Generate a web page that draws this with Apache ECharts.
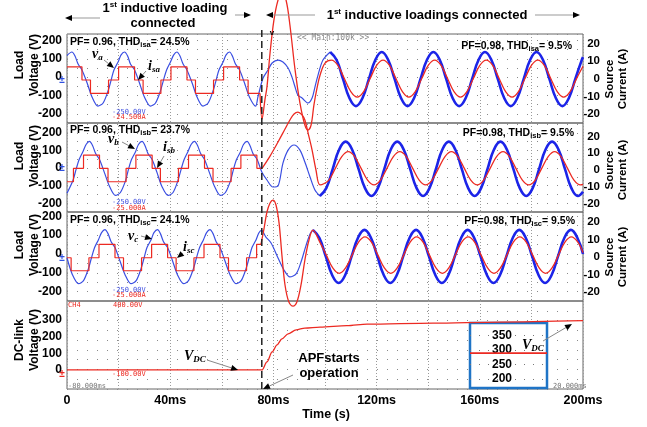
<!DOCTYPE html>
<html>
<head>
<meta charset="utf-8">
<script src="https://cdn.jsdelivr.net/npm/echarts@6/dist/echarts.min.js"></script>
<style>
html, body { margin: 0; padding: 0; background: #fff; }
#chart { width: 647px; height: 427px; }
</style>
</head>
<body>
<div id="chart"></div>
<script>
// tick labels
const timeTicks = [0, 40, 80, 120, 160, 200]
const voltTicks = [-200, -100, 0, 100, 200]
const currTicks = [-20, -10, 0, 10, 20]
const dcTicks = [0, 100, 200, 300]
const insetTicks = [200, 250, 300, 350]
const apfStart = 75.5 // ms, APF switched on

// phase a: load voltage (V) and source current (A), [time ms, value]
const vaPre = [[0,118],[1.9,137],[3.1,115],[4.3,71],[5.8,39],[7.8,-32],[9.7,-108],[12.0,-158],[14.0,-141],[15.9,-76],[17.1,-16],[18.2,39],[19.8,82],[20.9,120],
  [22.3,137],[23.5,115],[24.6,71],[26.2,39],[28.1,-32],[30.0,-108],[32.4,-158],[34.3,-141],[36.2,-76],[37.4,-16],[38.6,39],[40.1,82],[41.3,120],
  [42.6,137],[43.8,115],[45.0,71],[46.5,39],[48.5,-32],[50.4,-108],[52.7,-158],[54.7,-141],[56.6,-76],[57.8,-16],[58.9,39],[60.5,82],[61.6,120],
  [63.0,137],[64.1,115],[65.3,71],[66.9,39],[68.8,-32],[70.7,-108],[73.1,-158],
  [74.0,-108],[76.0,-5],[77.9,39],[79.5,77],[81.8,93],[83.7,82],[85.7,50],[87.2,0],[88.4,-54],[89.5,-98],[91.1,-114],[93.4,-141],[95.0,-114],[96.1,-54],[97.3,11],[99.2,93],[102,137]]
const vaPost = [[102,137],[104.5,93],[107,-11],[109.5,-115],[112,-158],[114.5,-115],[117,-11],[119.5,93],
  [122,137],[124.5,93],[127,-11],[129.5,-115],[132,-158],[134.5,-115],[137,-11],[139.5,93],
  [142,137],[144.5,93],[147,-11],[149.5,-115],[152,-158],[154.5,-115],[157,-11],[159.5,93],
  [162,137],[164.5,93],[167,-11],[169.5,-115],[172,-158],[174.5,-115],[177,-11],[179.5,93],
  [182,137],[184.5,93],[187,-11],[189.5,-115],[192,-158],[194.5,-115],[197,-11],[199.5,93],[200,109]]
const isaPre = [[0,6.9],[5.8,-0.6],[9.1,-8.2],[16.1,-0.6],[20.0,6.9],[26.2,-0.6],[29.5,-8.2],[36.4,-0.6],[40.3,6.9],[46.5,-0.6],[49.8,-8.2],[56.8,-0.6],[60.7,6.9],[66.9,-0.6],[70.2,-8.2],[74.8,-8.2]]
const isaPost = [[74.8,-8.2],[75.6,-22.8],[76.7,-12],[77.5,-4.6],[78.7,14.7],[80.2,33.4],[81.8,44.8],[83.3,49.3],[84.9,44.8],[86.4,30.6],[88.4,5.1],[90.3,-13.7],[92.2,-26.2],[93.4,-29],[94.6,-26.2],[95.7,-14.8],[96.9,-5.2],[98.1,2.2],[100,9],
  [102.5,10.7],[105,7.7],[107.5,0.2],[110,-7.2],[112.5,-10.3],[115,-7.2],[117.5,0.2],[120,7.7],
  [122.5,10.7],[125,7.7],[127.5,0.2],[130,-7.2],[132.5,-10.3],[135,-7.2],[137.5,0.2],[140,7.7],
  [142.5,10.7],[145,7.7],[147.5,0.2],[150,-7.2],[152.5,-10.3],[155,-7.2],[157.5,0.2],[160,7.7],
  [162.5,10.7],[165,7.7],[167.5,0.2],[170,-7.2],[172.5,-10.3],[175,-7.2],[177.5,0.2],[180,7.7],
  [182.5,10.7],[185,7.7],[187.5,0.2],[190,-7.2],[192.5,-10.3],[195,-7.2],[197.5,0.2],[200,7.2]]

// phase b
const vbPre = [[0,-143],[2.3,-71],[3.5,-9],[4.7,48],[6.2,94],[7.4,134],
  [8.7,151],[9.9,128],[11.1,82],[12.6,48],[14.5,-26],[16.5,-105],[18.8,-156],[20.7,-139],[22.7,-71],[23.8,-9],[25.0,48],[26.6,94],[27.7,134],
  [29.1,151],[30.2,128],[31.4,82],[33.0,48],[34.9,-26],[36.8,-105],[39.2,-156],[41.1,-139],[43.0,-71],[44.2,-9],[45.4,48],[46.9,94],[48.1,134],
  [49.4,151],[50.6,128],[51.8,82],[53.3,48],[55.2,-26],[57.2,-105],[59.5,-156],[61.4,-139],[63.4,-71],[64.5,-9],[65.7,48],[67.3,94],[68.4,134],
  [69.8,151],[70.9,128],[72.1,82],[73.7,48],[75.6,-26],
  [77.5,-68],[79.8,-108],[81.8,-102],[83.7,28],[85.7,102],[88.0,131],[90.3,102],[92.2,34],[94.2,-51],[96.1,-125],[98,-159]]
const vbPost = [[98,-159],[100.5,-114],[103,-5],[105.5,105],[108,150],[110.5,105],[113,-5],[115.5,-114],
  [118,-159],[120.5,-114],[123,-5],[125.5,105],[128,150],[130.5,105],[133,-5],[135.5,-114],
  [138,-159],[140.5,-114],[143,-5],[145.5,105],[148,150],[150.5,105],[153,-5],[155.5,-114],
  [158,-159],[160.5,-114],[163,-5],[165.5,105],[168,150],[170.5,105],[173,-5],[175.5,-114],
  [178,-159],[180.5,-114],[183,-5],[185.5,105],[188,150],[190.5,105],[193,-5],[195.5,-114],
  [198,-159],[200,-135]]
const isbPre = [[0,-7.0],[2.5,1.0],[6.4,8.9],[12.6,1.0],[15.9,-7.0],[22.9,1.0],[26.7,8.9],[33.0,1.0],[36.2,-7.0],[43.2,1.0],[47.1,8.9],[53.3,1.0],[56.6,-7.0],[63.6,1.0],[67.4,8.9],[73.6,1.0],[75.6,1.0]]
const isbPost = [[75.6,1.0],[78.7,8.3],[81.8,16.7],[84.5,24.4],[86.4,29.8],[88.0,33.4],[89.5,34.5],[91.1,32.8],[92.2,29.8],[93.8,19.7],[95.0,11.9],[96.5,0],[98.1,-8.9],
  [101.5,-6.0],[104,1.0],[106.5,8.0],[109,10.9],[111.5,8.0],[114,1.0],[116.5,-6.0],
  [119,-8.9],[121.5,-6.0],[124,1.0],[126.5,8.0],[129,10.9],[131.5,8.0],[134,1.0],[136.5,-6.0],
  [139,-8.9],[141.5,-6.0],[144,1.0],[146.5,8.0],[149,10.9],[151.5,8.0],[154,1.0],[156.5,-6.0],
  [159,-8.9],[161.5,-6.0],[164,1.0],[166.5,8.0],[169,10.9],[171.5,8.0],[174,1.0],[176.5,-6.0],
  [179,-8.9],[181.5,-6.0],[184,1.0],[186.5,8.0],[189,10.9],[191.5,8.0],[194,1.0],[196.5,-6.0],
  [199,-8.9],[200,-8.6]]

// phase c
const vcPre = [[0,-20],[2.1,-110],[4.5,-158],[6.4,-142],[8.3,-78],[9.5,-20],[10.7,34],[12.2,76],[13.4,113],
  [14.7,129],[15.9,108],[17.1,65],[18.6,34],[20.5,-36],[22.5,-110],[24.8,-158],[26.8,-142],[28.7,-78],[29.9,-20],[31.0,34],[32.6,76],[33.7,113],
  [35.1,129],[36.2,108],[37.4,65],[39.0,34],[40.9,-36],[42.8,-110],[45.2,-158],[47.1,-142],[49.0,-78],[50.2,-20],[51.4,34],[52.9,76],[54.1,113],
  [55.4,129],[56.6,108],[57.8,65],[59.3,34],[61.2,-36],[63.2,-110],[65.5,-158],[67.5,-142],[69.4,-78],[70.6,-20],[71.7,34],[73.3,76],[74.4,113],
  [75.4,125],[77.1,90],[79.1,58],[81.8,-21],[84.1,-85],[86.4,-122],[88.8,-106],[90.7,-43],[92.6,43],[94.2,106],[95.3,128]]
const vcPost = [[95.3,128],[97.8,86],[100.3,-13],[102.8,-113],[105.3,-154],[107.8,-113],[110.3,-13],[112.8,86],
  [115.3,128],[117.8,86],[120.3,-13],[122.8,-113],[125.3,-154],[127.8,-113],[130.3,-13],[132.8,86],
  [135.3,128],[137.8,86],[140.3,-13],[142.8,-113],[145.3,-154],[147.8,-113],[150.3,-13],[152.8,86],
  [155.3,128],[157.8,86],[160.3,-13],[162.8,-113],[165.3,-154],[167.8,-113],[170.3,-13],[172.8,86],
  [175.3,128],[177.8,86],[180.3,-13],[182.8,-113],[185.3,-154],[187.8,-113],[190.3,-13],[192.8,86],
  [195.3,128],[197.8,86],[200,0]]
const iscPre = [[0,-0.4],[1.6,-7.8],[8.5,-0.4],[12.4,7.2],[18.6,-0.4],[21.9,-7.8],[28.9,-0.4],[32.8,7.2],[39.0,-0.4],[42.3,-7.8],[49.2,-0.4],[53.1,7.2],[59.3,-0.4],[62.6,-7.8],[69.6,-0.4],[73.5,7.2],[75.2,7.2]]
const iscPost = [[75.2,7.4],[76.4,16.5],[77.5,25.6],[78.7,30.7],[79.8,32.4],[81.0,29.6],[82.2,19.3],[83.3,1.1],[84.5,-15.9],[86.0,-25.6],[87.6,-27.9],[89.1,-25.6],[90.7,-15.9],[92.2,-1.7],[93.8,9.7],[95.3,15.3],
  [98,8.5],[100.5,1.1],[103,-6.2],[105.5,-9.3],[108,-6.2],[110.5,1.1],[113,8.5],
  [115.5,11.5],[118,8.5],[120.5,1.1],[123,-6.2],[125.5,-9.3],[128,-6.2],[130.5,1.1],[133,8.5],
  [135.5,11.5],[138,8.5],[140.5,1.1],[143,-6.2],[145.5,-9.3],[148,-6.2],[150.5,1.1],[153,8.5],
  [155.5,11.5],[158,8.5],[160.5,1.1],[163,-6.2],[165.5,-9.3],[168,-6.2],[170.5,1.1],[173,8.5],
  [175.5,11.5],[178,8.5],[180.5,1.1],[183,-6.2],[185.5,-9.3],[188,-6.2],[190.5,1.1],[193,8.5],
  [195.5,11.5],[198,8.5],[200,2.5]]

// DC-link voltage (V)
const dcLink = [[0,0],[75.6,0],[77.5,48],[79.5,108],[81.4,150],[83.3,186],[85.7,216],[88.8,240],[92.2,251],[98.1,257],[108.5,265],[116.3,275],[141.9,281],[167.8,287],[200,295]]
const insetDc = [289, 289, 289, 289, 289]

const SANS = '"Liberation Sans", Arial, sans-serif'
const SERIF = '"Liberation Serif", "Times New Roman", serif'
const MONO = '"DejaVu Sans Mono", monospace'
const BLUE1 = '#3a4ee2'
const BLUE2 = '#1c24e8'
const RED = '#ec2a22'

const lblFont = {fontFamily: SANS, fontWeight: 'bold', fontSize: 12, color: '#000'}

function voltAxis(grid, min, max) {
  return {
    type: 'value', gridIndex: grid, position: 'left', min: min, max: max, interval: 50,
    axisLine: {show: false}, axisTick: {show: false},
    axisLabel: Object.assign({margin: 5, formatter: v => voltTicks.includes(v) ? String(v) : ''}, lblFont),
    splitLine: {show: true, lineStyle: {color: '#8a8a8a', type: [1, 9], width: 1}}
  }
}
function currAxis(grid, min, max) {
  return {
    type: 'value', gridIndex: grid, position: 'right', min: min, max: max, interval: 5,
    axisLine: {show: false}, axisTick: {show: false},
    axisLabel: Object.assign({margin: 17, align: 'right', formatter: v => currTicks.includes(v) ? String(v) : ''}, lblFont, {fontSize: 11.5}),
    splitLine: {show: false}
  }
}
function timeAxis(grid, labels) {
  return {
    type: 'value', gridIndex: grid, min: 0, max: 200, interval: 20,
    axisLine: {show: false}, axisTick: {show: false},
    axisLabel: {show: labels, margin: 5, fontFamily: SANS, fontWeight: 'bold', fontSize: 12.5, color: '#000',
      formatter: v => timeTicks.includes(v) ? (v === 0 ? '0' : v + 'ms') : ''},
    splitLine: {show: true, lineStyle: {color: '#9a9a9a', type: [1, 2], width: 1}}
  }
}
function line(data, xi, yi, color, width, extra) {
  return Object.assign({
    type: 'line', data: data, xAxisIndex: xi, yAxisIndex: yi,
    showSymbol: false, symbol: 'none', lineStyle: {color: color, width: width}, itemStyle: {color: color}
  }, extra)
}

const panelBox = {show: true, borderColor: '#666', borderWidth: 1, backgroundColor: 'transparent'}
const option = {
  animation: false,
  backgroundColor: '#fff',
  grid: [
    Object.assign({left: 67, top: 34, width: 516, height: 89}, panelBox),
    Object.assign({left: 67, top: 123, width: 516, height: 89}, panelBox),
    Object.assign({left: 67, top: 212, width: 516, height: 89}, panelBox),
    Object.assign({left: 67, top: 301, width: 516, height: 88}, panelBox),
    {left: 470, top: 323, width: 77, height: 65, show: true, borderColor: '#1f74c6', borderWidth: 2.5, backgroundColor: '#fff', z: 3}
  ],
  xAxis: [
    timeAxis(0, false), timeAxis(1, false), timeAxis(2, false), timeAxis(3, true),
    {type: 'value', gridIndex: 4, min: 0, max: insetDc.length - 1, show: false}
  ],
  yAxis: [
    voltAxis(0, -250, 235), currAxis(0, -25, 25.5),
    voltAxis(1, -250, 256), currAxis(1, -25, 28),
    voltAxis(2, -250, 223), currAxis(2, -25, 25.6),
    {type: 'value', gridIndex: 3, position: 'left', min: -114, max: 413,
      axisLine: {show: false}, axisTick: {show: false, customValues: dcTicks},
      axisLabel: Object.assign({margin: 5, customValues: dcTicks}, lblFont), splitLine: {show: false}},
    {type: 'value', gridIndex: 3, position: 'right', min: 0, max: 9, interval: 1,
      axisLine: {show: false}, axisTick: {show: false}, axisLabel: {show: false},
      splitLine: {show: true, lineStyle: {color: '#8a8a8a', type: [1, 9], width: 1}}},
    {type: 'value', gridIndex: 4, position: 'left', min: 168, max: 394, z: 10,
      axisLine: {show: false}, axisTick: {show: false, customValues: insetTicks},
      axisLabel: Object.assign({inside: true, margin: 22, customValues: insetTicks}, lblFont),
      splitLine: {show: true, lineStyle: {color: '#777', type: [1, 8], width: 1}}}
  ],
  series: [
    line(vaPre, 0, 0, BLUE1, 1.2, {smooth: 0.3}),
    line(vaPost, 0, 0, BLUE2, 2.6, {smooth: 0.45}),
    line(isaPre, 0, 1, RED, 1.2, {step: 'end'}),
    line(isaPost, 0, 1, RED, 1.3, {smooth: 0.35, clip: false}),
    line(vbPre, 1, 2, BLUE1, 1.2, {smooth: 0.3}),
    line(vbPost, 1, 2, BLUE2, 2.6, {smooth: 0.45}),
    line(isbPre, 1, 3, RED, 1.2, {step: 'end'}),
    line(isbPost, 1, 3, RED, 1.3, {smooth: 0.35, clip: false}),
    line(vcPre, 2, 4, BLUE1, 1.2, {smooth: 0.3}),
    line(vcPost, 2, 4, BLUE2, 2.6, {smooth: 0.45}),
    line(iscPre, 2, 5, RED, 1.2, {step: 'end'}),
    line(iscPost, 2, 5, RED, 1.3, {smooth: 0.35, clip: false}),
    line(dcLink, 3, 6, RED, 1.3, {smooth: 0.3, smoothMonotone: 'x'}),
    line(insetDc.map((v, i) => [i, v]), 4, 8, RED, 1.8, {z: 20})
  ]
}

const chart = echarts.init(document.getElementById('chart'))
chart.setOption(option)

// annotations
function txt(x, y, text, font, fill, extra) {
  return {type: 'text', x: x, y: y, z: 100, silent: true,
    style: Object.assign({text: text, font: font, fill: fill || '#000', align: 'center', verticalAlign: 'middle'}, extra || {})}
}
function richTxt(x, y, text, rich, align) {
  return {type: 'text', x: x, y: y, z: 100, silent: true,
    style: {text: text, rich: rich, align: align || 'left', verticalAlign: 'middle'}}
}
function arrow(x1, y1, x2, y2, stroke) {
  const a = Math.atan2(y2 - y1, x2 - x1), L = 7, W = 3
  const bx = x2 - L * Math.cos(a), by = y2 - L * Math.sin(a)
  return [
    {type: 'line', z: 100, silent: true, shape: {x1: x1, y1: y1, x2: bx, y2: by}, style: {stroke: stroke || '#888', lineWidth: 1}},
    {type: 'polygon', z: 100, silent: true,
      shape: {points: [[x2, y2], [bx - W * Math.sin(a), by + W * Math.cos(a)], [bx + W * Math.sin(a), by - W * Math.cos(a)]]},
      style: {fill: '#000'}}
  ]
}

const TITLE = {n: {fontFamily: SANS, fontWeight: 'bold', fontSize: 13, lineHeight: 15},
  sup: {fontFamily: SANS, fontWeight: 'bold', fontSize: 8, lineHeight: 8, verticalAlign: 'top'}}
const PF = {b: {fontFamily: SANS, fontWeight: 'bold', fontSize: 10.5, lineHeight: 13},
  s: {fontFamily: SANS, fontWeight: 'bold', fontSize: 7.5, lineHeight: 7.5, verticalAlign: 'bottom'}}
const IT = {v: {fontFamily: SERIF, fontStyle: 'italic', fontWeight: 'bold', fontSize: 14, lineHeight: 16},
  s: {fontFamily: SERIF, fontStyle: 'italic', fontWeight: 'bold', fontSize: 9, lineHeight: 9, verticalAlign: 'bottom'}}
const AX = 'bold 12px ' + SANS
const AXR = 'bold 11.5px ' + SANS
const SM = '7px ' + MONO

const apfX = chart.convertToPixel({xAxisIndex: 3}, apfStart)
const rot = Math.PI / 2

let g = [
  richTxt(165, 8, '{n|1}{sup|st}{n| inductive loading}', TITLE, 'center'),
  txt(163, 23, 'connected', 'bold 13px ' + SANS),
  richTxt(427, 15, '{n|1}{sup|st}{n| inductive loadings connected}', TITLE, 'center'),
  ...arrow(100, 18, 65, 18, '#999'), ...arrow(235, 15, 251, 15, '#999'),
  ...arrow(315, 15, 266, 15, '#999'), ...arrow(535, 15, 580, 15, '#999'),
  {type: 'line', z: 100, silent: true, shape: {x1: apfX, y1: 30, x2: apfX, y2: 389},
    style: {stroke: '#222', lineWidth: 1.5, lineDash: [7, 4]}},
  txt(272, 33, 'v', 'bold 8px ' + SANS),
  txt(297, 38, '<< Main:100k >>', '8px ' + MONO, '#8a8a8a', {align: 'left'}),

  richTxt(70, 42, '{b|PF= 0.96, THD}{s|isa}{b|= 24.5%}', PF),
  richTxt(572, 46, '{b|PF=0.98, THD}{s|isa}{b|= 9.5%}', PF, 'right'),
  richTxt(70, 130, '{b|PF= 0.96, THD}{s|isb}{b|= 23.7%}', PF),
  richTxt(574, 133, '{b|PF=0.98, THD}{s|isb}{b|= 9.5%}', PF, 'right'),
  richTxt(70, 220, '{b|PF= 0.96, THD}{s|isc}{b|= 24.1%}', PF),
  richTxt(575, 221, '{b|PF=0.98, THD}{s|isc}{b|= 9.5%}', PF, 'right'),

  richTxt(92, 54, '{v|v}{s|a}', IT), ...arrow(104, 60, 114, 68),
  richTxt(148, 66, '{v|i}{s|sa}', IT), ...arrow(146, 71, 138, 80),
  richTxt(108, 139, '{v|v}{s|b}', IT), ...arrow(122, 142, 135, 149),
  richTxt(163, 147, '{v|i}{s|sb}', IT), ...arrow(164, 156, 157, 168),
  richTxt(128, 236, '{v|v}{s|c}', IT), ...arrow(141, 236, 152, 239),
  richTxt(183, 247, '{v|i}{s|sc}', IT), ...arrow(183, 253, 177, 258),

  txt(27, 65, 'Load\nVoltage (V)', AX, '#000', {lineHeight: 15}),
  txt(27, 156, 'Load\nVoltage (V)', AX, '#000', {lineHeight: 15}),
  txt(27, 245, 'Load\nVoltage (V)', AX, '#000', {lineHeight: 15}),
  txt(27, 340, 'DC-link\nVoltage (V)', AX, '#000', {lineHeight: 15}),
  txt(616, 79, 'Source\nCurrent (A)', AXR, '#000', {lineHeight: 13}),
  txt(616, 170, 'Source\nCurrent (A)', AXR, '#000', {lineHeight: 13}),
  txt(616, 257, 'Source\nCurrent (A)', AXR, '#000', {lineHeight: 13}),

  txt(112, 112, '-250.00V', SM, '#4050e0', {align: 'left'}),
  txt(112, 117, '-24.500A', SM, RED, {align: 'left'}),
  txt(112, 202, '-250.00V', SM, '#4050e0', {align: 'left'}),
  txt(112, 208, '-25.000A', SM, RED, {align: 'left'}),
  txt(112, 290, '-250.00V', SM, '#4050e0', {align: 'left'}),
  txt(112, 295, '-25.000A', SM, RED, {align: 'left'}),
  txt(68, 305, 'CH4', SM, RED, {align: 'left'}),
  txt(113, 305, '400.00V', SM, RED, {align: 'left'}),
  txt(112, 374, '-100.00V', SM, RED, {align: 'left'}),
  txt(68, 386, '-80.000ms', SM, '#777', {align: 'left'}),
  txt(553, 386, '20.000ms', SM, '#777', {align: 'left'}),
  txt(62, 80, '\u00b1', 'bold 10px ' + SANS, '#3050e0'),
  txt(62, 168, '\u00b1', 'bold 10px ' + SANS, '#3050e0'),
  txt(62, 258, '\u00b1', 'bold 10px ' + SANS, '#3050e0'),
  txt(62, 374, '\u00b1', 'bold 10px ' + SANS, RED),

  richTxt(184, 356, '{v|V}{s|DC}', IT), ...arrow(207, 360, 238, 370),
  txt(329, 358, 'APFstarts', 'bold 13px ' + SANS),
  txt(329, 373, 'operation', 'bold 13px ' + SANS),
  ...arrow(293, 375, 263, 389),
  richTxt(522, 345, '{v|V}{s|DC}', IT), ...arrow(543, 341, 572, 324),
  txt(326, 415, 'Time (s)', 'bold 12.5px ' + SANS)
]
// rotate axis titles
g.forEach(el => { if (el.style && /Voltage|Current/.test(el.style.text || '')) el.rotation = rot })
chart.setOption({graphic: g})
</script>
</body>
</html>
